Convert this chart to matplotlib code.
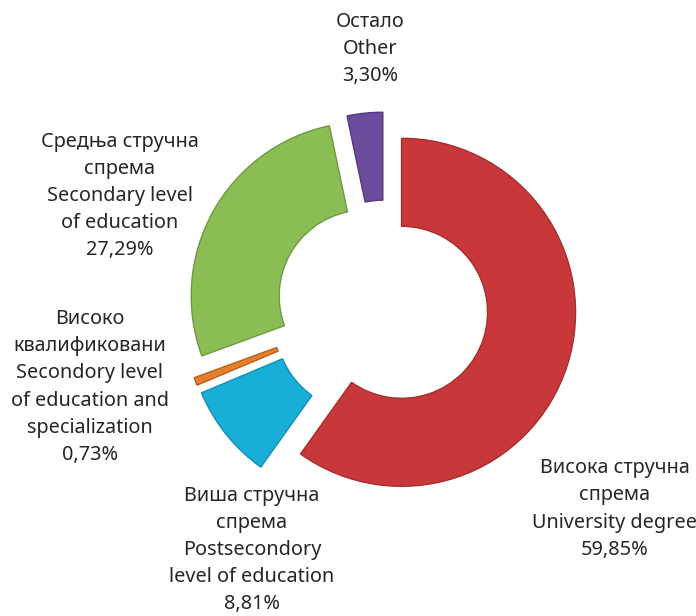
import matplotlib.pyplot as plt

# udjeli po strucnoj spremi
kategorije = ["Висока стручна\nспрема\nUniversity degree",
              "Виша стручна\nспрема\nPostsecondory\nlevel of education",
              "Високо\nквалификовани\nSecondory level\nof education and\nspecialization",
              "Средња стручна\nспрема\nSecondary level\nof education",
              "Остало\nOther"]
procenti = [59.85, 8.81, 0.73, 27.29, 3.30]
boje = ["#c8383b", "#19aed8", "#e47f2c", "#8bbd55", "#6b4c9d"]
ivice = ["#a52d30", "#1490b3", "#b8621f", "#6f9a43", "#543a80"]
explode = [0.1, 0.17, 0.17, 0.13, 0.12]

# pozicije natpisa (px, od vrha slike)
lab_xy = [(615, 509), (252, 550), (90, 387), (120, 196), (370, 49)]

plt.rcParams['font.family'] = ['Noto Sans', 'DejaVu Sans']

R = 174
fig = plt.figure(figsize=(6.96, 6.16), dpi=100)
ax = fig.add_axes([0, 0, 1, 1])
ax.set_xlim(0, 696)
ax.set_ylim(0, 616)
ax.set_aspect('equal')
ax.axis('off')

wedges, _ = ax.pie(procenti, colors=boje, explode=[e * R for e in explode],
                   startangle=90, counterclock=False,
                   center=(385, 616 - 307), radius=R,
                   wedgeprops=dict(width=88, linewidth=1.0))
for w, e in zip(wedges, ivice):
    w.set_edgecolor(e)

for k, p, (x, y) in zip(kategorije, procenti, lab_xy):
    txt = k + "\n" + ("%.2f%%" % p).replace(".", ",")
    ax.text(x, 616 - y, txt, ha='center', va='center', fontsize=14.3,
            color="#262626", linespacing=1.48)

ax.set_xlim(0, 696)
ax.set_ylim(0, 616)
fig.savefig("out.png", dpi=100)
